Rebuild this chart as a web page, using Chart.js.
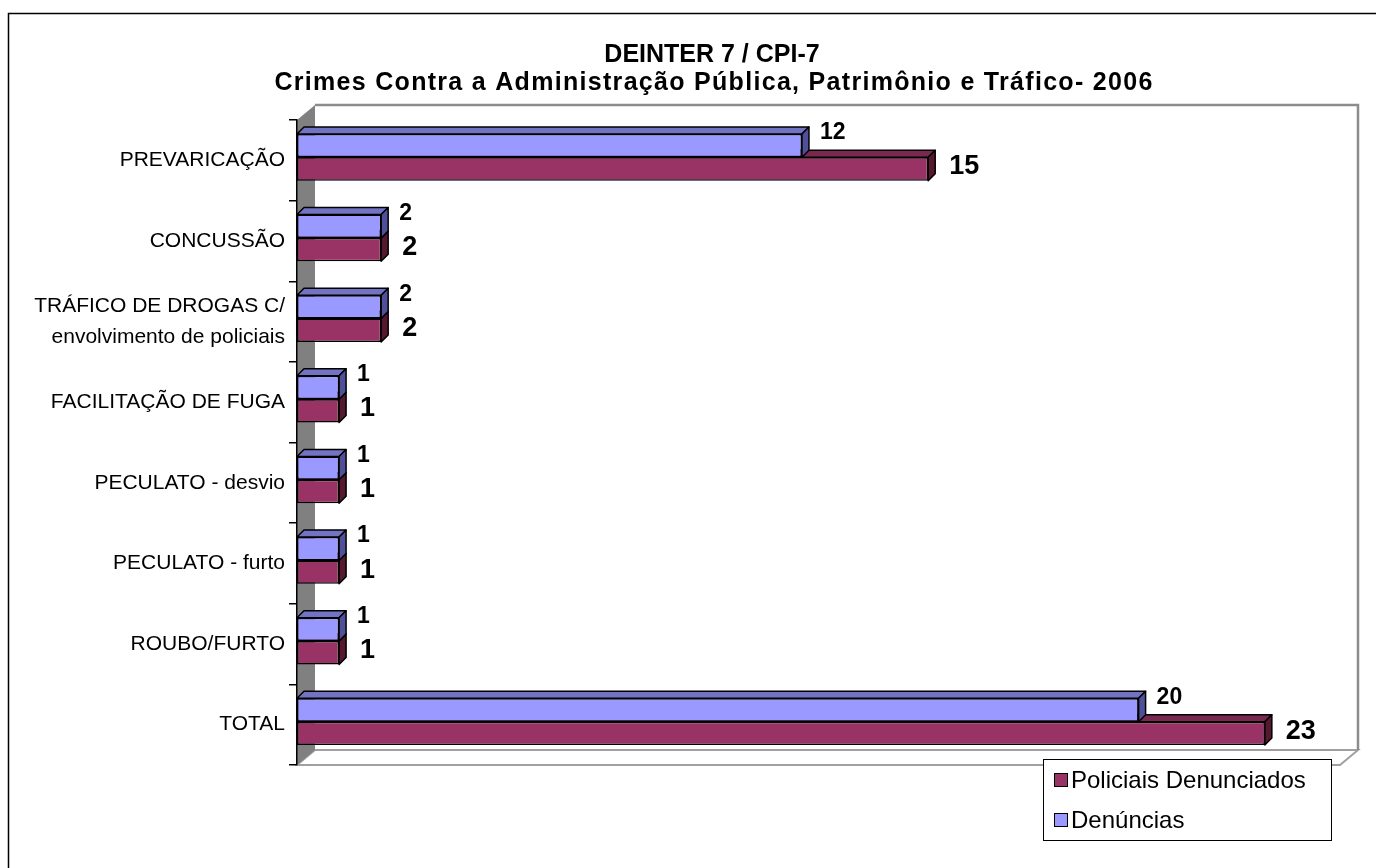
<!DOCTYPE html>
<html>
<head>
  <title>DEINTER 7 / CPI-7</title>
  <script src="https://cdn.jsdelivr.net/npm/chart.js"></script>
  <style>
    html, body { margin: 0; padding: 0; background: #fff; }
    #wrap { width: 1376px; height: 868px; }
  </style>
</head>
<body>
  <div id="wrap"><canvas id="chart" width="1376" height="868"></canvas></div>

  <script>
    const categories = [
      'PREVARICAÇÃO',
      'CONCUSSÃO',
      ['TRÁFICO DE DROGAS C/', 'envolvimento de policiais'],
      'FACILITAÇÃO DE FUGA',
      'PECULATO - desvio',
      'PECULATO - furto',
      'ROUBO/FURTO',
      'TOTAL'
    ];
    const denuncias = [12, 2, 2, 1, 1, 1, 1, 20];
    const policiais = [15, 2, 2, 1, 1, 1, 1, 23];
    const titleLines = ['DEINTER 7 / CPI-7', 'Crimes Contra a Administração Pública, Patrimônio e Tráfico- 2006'];

    const FONT = '"Liberation Sans", Arial, sans-serif';
    const WALL = { dx: 18, dy: 15 };
    const BAR = { dx: 7, dy: 7 };
    const TRIM = 9;   // plot box stops a little short of the value axis max

    // background frame: outer border, title, walls and floor
    const frame = {
      id: 'frame',
      beforeDraw(chart) {
        const c = chart.ctx, a = chart.chartArea;
        const L = a.left, T = a.top, R = a.right - TRIM, B = a.bottom;
        c.save();
        c.strokeStyle = '#000';
        c.lineWidth = 1.5;
        c.strokeRect(8.5, 13.5, 1400, 900);

        c.fillStyle = '#000';
        c.textAlign = 'center';
        c.textBaseline = 'middle';
        c.font = 'bold 25px ' + FONT;
        c.fillText(titleLines[0], 712, 55);
        c.letterSpacing = '1.3px';
        c.fillText(titleLines[1], 714, 83);
        c.letterSpacing = '0px';

        // floor
        c.beginPath();
        c.moveTo(L, B);
        c.lineTo(L + WALL.dx, B - WALL.dy);
        c.lineTo(R + WALL.dx, B - WALL.dy);
        c.lineTo(R, B);
        c.closePath();
        c.fillStyle = '#fff';
        c.fill();
        c.strokeStyle = '#a0a0a0';
        c.lineWidth = 2;
        c.stroke();

        // back wall
        c.strokeStyle = '#8c8c8c';
        c.lineWidth = 2.5;
        c.beginPath();
        c.moveTo(L + WALL.dx, T - WALL.dy);
        c.lineTo(R + WALL.dx, T - WALL.dy);
        c.lineTo(R + WALL.dx, B - WALL.dy);
        c.stroke();

        // left wall
        c.beginPath();
        c.moveTo(L, T);
        c.lineTo(L + WALL.dx, T - WALL.dy);
        c.lineTo(L + WALL.dx, B - WALL.dy);
        c.lineTo(L, B);
        c.closePath();
        c.fillStyle = '#808080';
        c.fill();
        c.restore();
      },
      afterDraw(chart) {
        // legend box, Policiais first
        const c = chart.ctx;
        const items = [chart.data.datasets[1], chart.data.datasets[0]];
        c.save();
        c.fillStyle = '#fff';
        c.fillRect(1043, 759, 288, 81);
        c.strokeStyle = '#000';
        c.lineWidth = 1;
        c.strokeRect(1043.5, 759.5, 288, 81);
        c.font = '24px ' + FONT;
        c.textBaseline = 'middle';
        c.textAlign = 'left';
        items.forEach((ds, i) => {
          const y = 780 + i * 40;
          c.fillStyle = ds.backgroundColor;
          c.fillRect(1054, y - 7, 13, 13);
          c.strokeStyle = '#000';
          c.strokeRect(1054.5, y - 6.5, 13, 13);
          c.fillStyle = '#000';
          c.fillText(ds.label, 1071, y + 1);
        });
        c.restore();
      }
    };

    // top and side faces of each bar, then value labels
    const bar3d = {
      id: 'bar3d',
      beforeDatasetsDraw(chart) {
        chart.ctx.save();
        chart.ctx.translate(0, -3);
      },
      afterDatasetDraw(chart, args) {
        const c = chart.ctx;
        const ds = chart.data.datasets[args.index];
        c.save();
        c.strokeStyle = '#000';
        c.lineWidth = 1.5;
        c.lineJoin = 'round';
        args.meta.data.forEach(el => {
          const p = el.getProps(['x', 'y', 'base', 'height'], true);
          const top = p.y - p.height / 2, bot = p.y + p.height / 2;
          c.beginPath();
          c.moveTo(p.base, top);
          c.lineTo(p.base + BAR.dx, top - BAR.dy);
          c.lineTo(p.x + BAR.dx, top - BAR.dy);
          c.lineTo(p.x, top);
          c.closePath();
          c.fillStyle = ds.topColor;
          c.fill();
          c.stroke();
          c.beginPath();
          c.moveTo(p.x, top);
          c.lineTo(p.x + BAR.dx, top - BAR.dy);
          c.lineTo(p.x + BAR.dx, bot - BAR.dy);
          c.lineTo(p.x, bot);
          c.closePath();
          c.fillStyle = ds.sideColor;
          c.fill();
          c.stroke();
        });
        c.restore();
      },
      afterDatasetsDraw(chart) {
        const c = chart.ctx;
        c.save();
        c.fillStyle = '#000';
        c.textAlign = 'left';
        c.textBaseline = 'middle';
        chart.data.datasets.forEach((ds, i) => {
          const meta = chart.getDatasetMeta(i);
          c.font = 'bold ' + ds.labelSize + 'px ' + FONT;
          meta.data.forEach((el, j) => {
            const p = el.getProps(['x', 'y', 'height'], true);
            const y = i === 0 ? p.y - p.height / 2 - 1 : p.y - 2;
            c.fillText(String(ds.data[j]), p.x + (i === 0 ? 18 : 21), y);
          });
        });
        c.restore();
        c.restore(); // undo the translate from beforeDatasetsDraw
      }
    };

    new Chart(document.getElementById('chart'), {
      type: 'bar',
      data: {
        labels: categories,
        datasets: [
          {
            label: 'Denúncias',
            data: denuncias,
            backgroundColor: '#9999ff',
            topColor: '#7373c4',
            sideColor: '#50509a',
            labelSize: 23,
            borderColor: '#000',
            borderWidth: 1.5,
            borderSkipped: false,
            categoryPercentage: 0.58,
            barPercentage: 1
          },
          {
            label: 'Policiais Denunciados',
            data: policiais,
            backgroundColor: '#993366',
            topColor: '#7a2850',
            sideColor: '#55182f',
            labelSize: 27,
            borderColor: '#000',
            borderWidth: 1.5,
            borderSkipped: false,
            categoryPercentage: 0.58,
            barPercentage: 1
          }
        ]
      },
      options: {
        indexAxis: 'y',
        responsive: false,
        animation: false,
        layout: { padding: { top: 120, right: 27, bottom: 103, left: 0 } },
        plugins: {
          legend: { display: false },
          title: { display: false },
          tooltip: { enabled: false }
        },
        scales: {
          x: { display: false, min: 0, max: 25 },
          y: {
            grid: { display: true, drawOnChartArea: false, offset: true, tickLength: 8, color: '#000', lineWidth: 1.5 },
            border: { display: true, color: '#000', width: 1.5 },
            ticks: { color: '#000', padding: 4, font: { family: FONT, size: 21, lineHeight: 1.5 } },
            afterFit: s => { s.width = 297; }
          }
        }
      },
      plugins: [frame, bar3d]
    });
  </script>
</body>
</html>
